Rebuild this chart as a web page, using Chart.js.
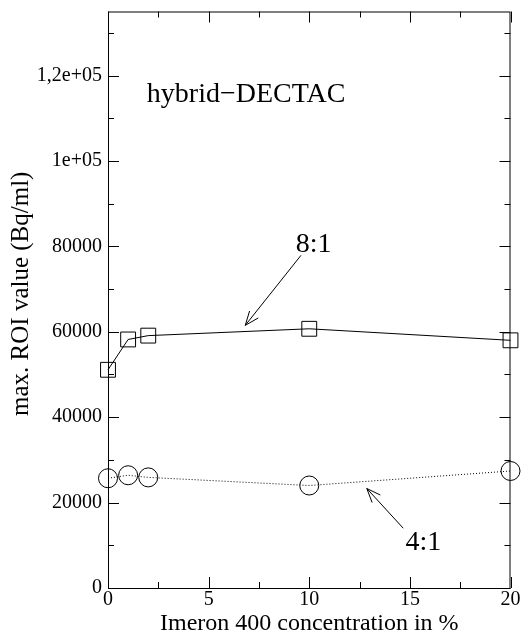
<!DOCTYPE html>
<html>
<head>
<meta charset="utf-8">
<script src="https://cdn.jsdelivr.net/npm/chart.js@4"></script>
<style>
  html, body { margin: 0; padding: 0; background: #fff; }
  #wrap { width: 522px; height: 633px; }
</style>
</head>
<body>
<div id="wrap"><canvas id="roiChart" width="522" height="633"></canvas></div>
<script>
// Imeron 400 concentration (%)
const concentrations = [0, 1, 2, 10, 20];
// max. ROI value (Bq/ml)
const ratio81 = [51100, 58200, 59100, 60700, 58000];
const ratio41 = [25700, 26400, 25900, 24000, 27400];

const xTicks = [0, 5, 10, 15, 20];
const xMinorTicks = [2.5, 7.5, 12.5, 17.5];
const yTicks = [0, 20000, 40000, 60000, 80000, 100000, 120000];
const yTickLabels = ['0', '20000', '40000', '60000', '80000', '1e+05', '1,2e+05'];
const yMinorTicks = [10000, 30000, 50000, 70000, 90000, 110000, 130000];

// annotations in data units: [x, y]
const labelTitle = { text: 'hybrid\u2212DECTAC', at: [1.93, 113700] };
const label81 = { text: '8:1', at: [10.22, 78600], from: [9.59, 77900], to: [6.82, 61500] };
const label41 = { text: '4:1', at: [15.67, 8900], from: [14.67, 14000], to: [12.86, 23300] };

const serif = '"Liberation Serif", "DejaVu Serif", serif';

function toPoints(xs, ys) {
  return xs.map((x, i) => ({ x: x, y: ys[i] }));
}

// frame, inward ticks, annotations
const decorations = {
  id: 'decorations',
  afterDatasetsDraw(chart) {
    const { ctx, chartArea: a, scales: { x, y } } = chart;
    ctx.save();
    ctx.strokeStyle = '#000';
    ctx.lineWidth = 1;
    ctx.strokeRect(a.left + 0.5, a.top + 0.5, a.right - a.left - 1, a.bottom - a.top);

    ctx.beginPath();
    const tickX = (vals, len) => vals.forEach(v => {
      const px = Math.round(x.getPixelForValue(v)) + 0.5;
      ctx.moveTo(px, a.bottom); ctx.lineTo(px, a.bottom - len);
      ctx.moveTo(px, a.top); ctx.lineTo(px, a.top + len);
    });
    const tickY = (vals, len) => vals.forEach(v => {
      const py = Math.round(y.getPixelForValue(v)) + 0.5;
      ctx.moveTo(a.left, py); ctx.lineTo(a.left + len, py);
      ctx.moveTo(a.right, py); ctx.lineTo(a.right - len, py);
    });
    tickX(xTicks, 11); tickX(xMinorTicks, 6);
    tickY(yTicks, 11); tickY(yMinorTicks, 6);
    ctx.stroke();

    // arrows
    const arrow = (from, to) => {
      const x1 = x.getPixelForValue(from[0]), y1 = y.getPixelForValue(from[1]);
      const x2 = x.getPixelForValue(to[0]), y2 = y.getPixelForValue(to[1]);
      const ang = Math.atan2(y2 - y1, x2 - x1);
      const head = 15, spread = 0.38;
      ctx.beginPath();
      ctx.moveTo(x1, y1); ctx.lineTo(x2, y2);
      ctx.moveTo(x2 - head * Math.cos(ang - spread), y2 - head * Math.sin(ang - spread));
      ctx.lineTo(x2, y2);
      ctx.lineTo(x2 - head * Math.cos(ang + spread), y2 - head * Math.sin(ang + spread));
      ctx.stroke();
    };
    arrow(label81.from, label81.to);
    arrow(label41.from, label41.to);

    ctx.fillStyle = '#000';
    ctx.textBaseline = 'alphabetic';
    ctx.font = '28px ' + serif;
    ctx.textAlign = 'left';
    ctx.fillText(labelTitle.text, x.getPixelForValue(labelTitle.at[0]), y.getPixelForValue(labelTitle.at[1]));
    ctx.textAlign = 'center';
    [label81, label41].forEach(l => {
      ctx.fillText(l.text, x.getPixelForValue(l.at[0]), y.getPixelForValue(l.at[1]));
    });

    // y axis title, drawn here to place it like the original
    ctx.save();
    ctx.font = '25px ' + serif;
    ctx.textAlign = 'center';
    ctx.translate(28, (a.top + a.bottom) / 2 - 6);
    ctx.rotate(-Math.PI / 2);
    ctx.fillText('max. ROI value (Bq/ml)', 0, 0);
    ctx.restore();
    ctx.restore();
  }
};

const ctx = document.getElementById('roiChart').getContext('2d');
new Chart(ctx, {
  type: 'scatter',
  data: {
    datasets: [
      {
        label: '8:1',
        data: toPoints(concentrations, ratio81),
        showLine: true,
        clip: false,
        borderColor: '#000',
        borderWidth: 1,
        backgroundColor: 'rgba(0,0,0,0)',
        pointStyle: 'rect',
        pointRadius: 10.5,
        pointBorderWidth: 1,
        pointBorderColor: '#000',
        tension: 0
      },
      {
        label: '4:1',
        data: toPoints(concentrations, ratio41),
        showLine: true,
        clip: false,
        borderColor: '#000',
        borderWidth: 1,
        borderDash: [1, 2],
        backgroundColor: 'rgba(0,0,0,0)',
        pointStyle: 'circle',
        pointRadius: 9.5,
        pointBorderWidth: 1,
        pointBorderColor: '#000',
        tension: 0
      }
    ]
  },
  options: {
    responsive: false,
    animation: false,
    layout: { padding: { left: 0, right: 10, top: 11, bottom: 0 } },
    plugins: { legend: { display: false }, tooltip: { enabled: false } },
    scales: {
      x: {
        type: 'linear',
        min: 0,
        max: 20,
        afterFit: s => { s.height = 45; s.paddingLeft = 0; s.paddingRight = 0; },
        afterBuildTicks: s => { s.ticks = xTicks.map(v => ({ value: v })); },
        grid: { display: false, drawTicks: false },
        border: { display: false },
        ticks: { color: '#000', font: { family: serif, size: 20 }, padding: 0, autoSkip: false, maxRotation: 0 },
        title: {
          display: true,
          text: 'Imeron 400 concentration in %',
          color: '#000',
          font: { family: serif, size: 24, lineHeight: 0.8 },
          padding: 0
        }
      },
      y: {
        type: 'linear',
        min: 0,
        max: 135000,
        afterFit: s => { s.width = 108; s.paddingTop = 0; s.paddingBottom = 0; },
        afterBuildTicks: s => { s.ticks = yTicks.map(v => ({ value: v })); },
        grid: { display: false, drawTicks: false },
        border: { display: false },
        ticks: {
          color: '#000',
          font: { family: serif, size: 20 },
          padding: 6,
          autoSkip: false,
          callback: v => yTickLabels[yTicks.indexOf(v)]
        },
        title: { display: false }
      }
    }
  },
  plugins: [decorations]
});
</script>
</body>
</html>
